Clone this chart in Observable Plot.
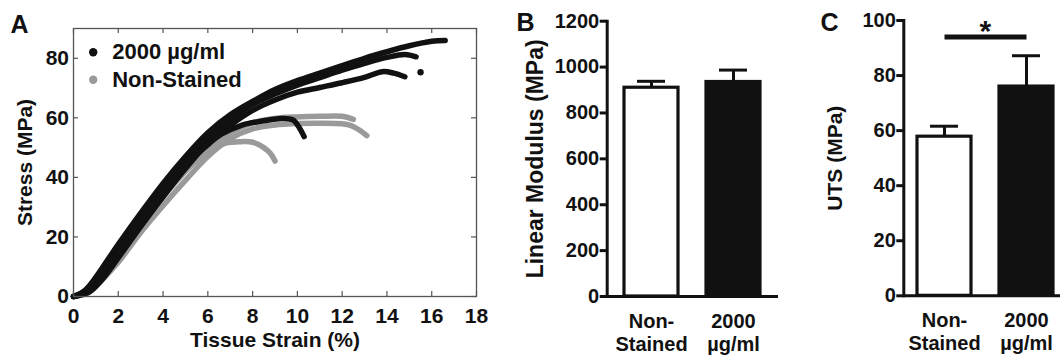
<!DOCTYPE html>
<html><head><meta charset="utf-8">
<script src="https://cdn.jsdelivr.net/npm/d3@7"></script>
<script src="https://cdn.jsdelivr.net/npm/@observablehq/plot@0.6"></script>
<style>
html,body{margin:0;padding:0;background:#fff;}
#fig{position:relative;width:1060px;height:356px;overflow:hidden;background:#fff;}
#fig > svg{position:absolute;top:0;}
</style></head><body><div id="fig"></div>
<script>
// ---------- Panel A data: stress–strain curves [strain %, stress MPa] ----------
const stained1 = [[0,0],[0.5,2],[1,6.5],[1.5,12],[2,17.5],[3,28],[4,38],[5,47],[6,55],[7,61],[8,65.5],[9,69.5],[10,72.5],[11,75],[12,77.5],[13,80],[14,82.2],[15,84.2],[16,85.7],[16.6,86]];
const stained2 = [[0,0],[0.6,1.5],[1,5],[1.5,10],[2,15.5],[3,26],[4,36],[5,45],[6,53],[7,59.5],[8,64.5],[9,68],[10,71],[11,73.5],[12,76],[13,78.3],[14,80.3],[14.8,81.3],[15.3,80.5]];
const stained3 = [[0,0],[0.7,1.5],[1.2,5],[2,13],[3,23.5],[4,33.5],[5,43],[6,51.5],[7,57.5],[8,62.5],[9,66],[10,68.6],[11,70.2],[12,71.8],[13,73.6],[13.8,75.5],[14.3,75],[14.8,73.8]];
const stained4 = [[0,0],[0.5,1.5],[1,5.5],[2,15],[3,25.5],[4,35],[5,44],[6,51],[6.6,54.5],[7.5,57.5],[8.5,59],[9.3,59.8],[9.8,59.3],[10.1,56.5],[10.3,53.7]];
const stainedLoose = [[15.5,75.3]];
const nonStained1 = [[0,0],[0.5,1.5],[1,6],[2,14.5],[3,24.5],[4,33.5],[5,42],[6,49.5],[7,55],[8,58.3],[9,59.8],[10,60.3],[11,60.5],[12,60.5],[12.5,59.5]];
const nonStained2 = [[0,0],[0.6,1],[1,3.5],[2,11.5],[3,21.5],[4,30.5],[5,39],[6,47],[7,53],[8,56.3],[9,57.6],[10,58.1],[11,58.2],[12,58],[12.4,57.4],[12.7,56.2],[12.9,55.2],[13.1,54]];
const nonStained3 = [[0,0],[0.5,1.8],[1,6],[2,15],[3,25],[4,34],[5,42.5],[6,48.5],[6.8,51.5],[7.5,52],[8,51.8],[8.5,50],[8.8,48],[9,45.5]];
const strainTicks = [0,2,4,6,8,10,12,14,16,18];
const stressTicks = [0,20,40,60,80];
const strainDomain = [0,18];
const stressDomain = [0,90];
const legendLabels = ["2000 µg/ml","Non-Stained"];
const strainLabel = "Tissue Strain (%)";
const stressLabel = "Stress (MPa)";

// ---------- Panels B & C data ----------
const groups = ["Non-Stained","2000 µg/ml"];
const groupTickLabels = ["Non-\nStained","2000\nµg/ml"];
const modulusMean = [910, 935];
const modulusErr = [28, 52];
const modulusTicks = [0,200,400,600,800,1000,1200];
const modulusLabel = "Linear Modulus (MPa)";
const utsMean = [57.8, 76];
const utsErr = [3.8, 11.2];
const utsTicks = [0,20,40,60,80,100];
const utsLabel = "UTS (MPa)";
const sigText = "*";
const sigY = 94;
const panelLetters = ["A","B","C"];

const FONT = '"Liberation Sans", Arial, Helvetica, sans-serif';
const BLACK = "#111111", GRAY = "#9a9a9a";
const baseStyle = {fontFamily: FONT, fontWeight: "bold", fontSize: "21px", color: BLACK, background: "transparent", overflow: "visible"};
const fig = document.getElementById("fig");
const centered = {x: null, y: null, text: d => d, textAnchor: "middle", lineAnchor: "middle"};

// ---------- Panel A ----------
const rowsA = [];
[["2000 µg/ml",[stained1,stained2,stained3,stained4]],["Non-Stained",[nonStained1,nonStained2,nonStained3]]]
  .forEach(([group, list]) => list.forEach((curve, k) => curve.forEach(([s, t]) => rowsA.push({group, id: group + k, strain: s, stress: t}))));
const wA = 490, hA = 356, mlA = 73, mrA = 14, mtA = 28, mbA = 60;
const plotHA = hA - mtA - mbA, plotWA = wA - mlA - mrA, tl = 5;
const lineOpts = {x: "strain", y: "stress", z: "id", strokeWidth: 5.5, curve: "catmull-rom", strokeLinecap: "round", strokeLinejoin: "round"};
const legendColors = [BLACK, GRAY];
const plotA = Plot.plot({
  width: wA, height: hA, marginLeft: mlA, marginRight: mrA, marginTop: mtA, marginBottom: mbA,
  style: baseStyle,
  x: {domain: strainDomain},
  y: {domain: stressDomain},
  marks: [
    Plot.line(rowsA.filter(d => d.group === "Non-Stained"), {...lineOpts, stroke: GRAY}),
    Plot.line(rowsA.filter(d => d.group !== "Non-Stained"), {...lineOpts, stroke: BLACK}),
    Plot.dot(stainedLoose, {x: d => d[0], y: d => d[1], r: 3.2, fill: BLACK, stroke: null}),
    Plot.frame({stroke: "#555", strokeWidth: 1.3}),
    Plot.tickX(strainTicks, {x: d => d, insetTop: plotHA - tl, stroke: "#555", strokeWidth: 1.2}),
    Plot.tickX(strainTicks, {x: d => d, insetBottom: plotHA - tl, stroke: "#555", strokeWidth: 1.2}),
    Plot.tickY(stressTicks, {y: d => d, insetRight: plotWA - tl, stroke: "#555", strokeWidth: 1.2}),
    Plot.tickY(stressTicks, {y: d => d, insetLeft: plotWA - tl, stroke: "#555", strokeWidth: 1.2}),
    Plot.axisX(strainTicks, {tickSize: 0, tickPadding: 11.5, label: null, fontSize: 21, fontWeight: "bold"}),
    Plot.axisY(stressTicks, {tickSize: 0, tickPadding: 4.5, label: null, fontSize: 21, fontWeight: "bold"}),
    Plot.text([strainLabel], {...centered, frameAnchor: "bottom", dy: 44, fontSize: 21}),
    Plot.text([stressLabel], {...centered, frameAnchor: "left", dx: -48, rotate: -90, fontSize: 21}),
    ...legendLabels.flatMap((lab, i) => [
      Plot.dot([lab], {x: null, y: null, frameAnchor: "top-left", dx: 19.7, dy: 23.7 + i * 27.6, r: 4.2, fill: legendColors[i], stroke: null}),
      Plot.text([lab], {...centered, frameAnchor: "top-left", dx: 38.7, dy: 23.7 + i * 27.6, textAnchor: "start", fontSize: 22})
    ]),
    Plot.text([panelLetters[0]], {...centered, frameAnchor: "top-left", dx: -63, dy: -4, textAnchor: "start", fontSize: 25})
  ]
});
plotA.style.left = "0px";
fig.appendChild(plotA);

// ---------- Bar panel builder ----------
function barPanel({left, width, ml, mr, mt, mb, means, errs, domain, ticks, label, labelDx, labelSize, letter, letterDx, letterDy, pInner, pOuter, align, sig}) {
  const rows = groups.map((g, i) => ({group: g, mean: means[i], top: means[i] + errs[i], fill: i === 0 ? "#ffffff" : BLACK}));
  const marks = [
    Plot.ruleX(rows, {x: "group", y1: "mean", y2: "top", stroke: BLACK, strokeWidth: 3}),
    Plot.tickY(rows, {x: "group", y: "top", stroke: BLACK, strokeWidth: 3, insetLeft: 13, insetRight: 13}),
    Plot.barY(rows, {x: "group", y: "mean", fill: "fill", stroke: BLACK, strokeWidth: 3.2}),
    Plot.ruleY([0], {stroke: BLACK, strokeWidth: 3}),
    Plot.frame({anchor: "left", stroke: BLACK, strokeWidth: 3}),
    Plot.axisY(ticks, {tickSize: 7, tickPadding: 1, strokeWidth: 3, label: null, fontSize: 20, fontWeight: "bold", tickFormat: d => String(d)}),
    Plot.axisX(groups, {tickSize: 0, tickPadding: 15, label: null, fontSize: 20, fontWeight: "bold", lineHeight: 1.15, tickFormat: d => groupTickLabels[groups.indexOf(d)]}),
    Plot.text([label], {...centered, frameAnchor: "left", dx: labelDx, rotate: -90, fontSize: labelSize}),
    Plot.text([letter], {...centered, frameAnchor: "top-left", dx: letterDx, dy: letterDy, textAnchor: "start", fontSize: 25})
  ];
  if (sig) {
    const step = (width - ml - mr) / (groups.length - pInner + 2 * pOuter);
    marks.push(
      Plot.link([sig], {x1: () => groups[0], x2: () => groups[1], y1: () => sigY, y2: () => sigY, stroke: BLACK, strokeWidth: 5}),
      Plot.text([sig], {x: () => groups[1], y: () => sigY, text: d => d, dx: -step / 2, dy: -5.8, fontSize: 30, lineAnchor: "middle"})
    );
  }
  const p = Plot.plot({
    width, height: 356, marginLeft: ml, marginRight: mr, marginTop: mt, marginBottom: mb,
    style: baseStyle,
    x: {domain: groups, paddingInner: pInner, paddingOuter: pOuter, align},
    y: {domain},
    marks
  });
  p.style.left = left + "px";
  fig.appendChild(p);
}

barPanel({left: 490, width: 300, ml: 116.7, mr: 12, mt: 20.7, mb: 60, means: modulusMean, errs: modulusErr,
  domain: [0, 1200], ticks: modulusTicks, label: modulusLabel, labelDx: -71.7, labelSize: 23,
  letter: panelLetters[1], letterDx: -90.7, letterDy: 1.6, pInner: 0.345, pOuter: 0.21, align: 0.5});

barPanel({left: 790, width: 270, ml: 113.3, mr: 0, mt: 20, mb: 60.7, means: utsMean, errs: utsErr,
  domain: [0, 100], ticks: utsTicks, label: utsLabel, labelDx: -68.3, labelSize: 21,
  letter: panelLetters[2], letterDx: -83.3, letterDy: 2.3, pInner: 0.344, pOuter: 0.124, align: 0.66, sig: sigText});
</script></body></html>
